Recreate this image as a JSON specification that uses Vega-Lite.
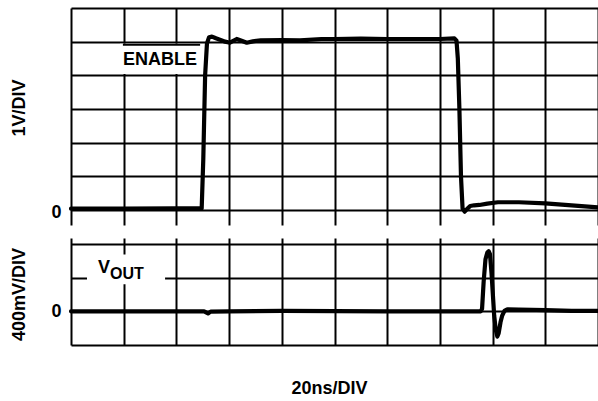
{
  "$schema": "https://vega.github.io/schema/vega-lite/v6.json",
  "padding": {"left": 10, "top": 8, "right": 0, "bottom": 0},
  "background": "white",
  "bounds": "flush",
  "spacing": 13,
  "config": {
    "view": {"stroke": null},
    "font": "Liberation Sans",
    "axis": {
      "gridColor": "black", "gridOpacity": 1, "gridWidth": 2,
      "ticks": false, "domain": false,
      "labelFont": "Liberation Sans", "labelFontSize": 18, "labelFontWeight": "bold", "labelColor": "black",
      "titleFont": "Liberation Sans", "titleFontSize": 18, "titleFontWeight": "bold", "titleColor": "black"
    }
  },
  "datasets": {
    "enable": [
      {"t": 0, "v": 0.04}, {"t": 20, "v": 0.04}, {"t": 40, "v": 0.05}, {"t": 49.6, "v": 0.05},
      {"t": 50.2, "v": 1.5}, {"t": 50.9, "v": 4.0}, {"t": 51.6, "v": 4.95}, {"t": 52.4, "v": 5.13},
      {"t": 53.5, "v": 5.15}, {"t": 55, "v": 5.1}, {"t": 56.5, "v": 5.06}, {"t": 58.5, "v": 5.0},
      {"t": 60.3, "v": 4.97}, {"t": 62.9, "v": 5.08}, {"t": 65, "v": 5.02}, {"t": 66.7, "v": 4.97},
      {"t": 69, "v": 5.01}, {"t": 72, "v": 5.04}, {"t": 80, "v": 5.05}, {"t": 86.9, "v": 5.04},
      {"t": 95, "v": 5.08}, {"t": 100, "v": 5.08}, {"t": 110, "v": 5.09}, {"t": 120, "v": 5.08},
      {"t": 130, "v": 5.08}, {"t": 140, "v": 5.08}, {"t": 145.5, "v": 5.1}, {"t": 146.3, "v": 5.03},
      {"t": 146.8, "v": 4.5}, {"t": 147.4, "v": 3.0}, {"t": 148.0, "v": 1.0}, {"t": 148.6, "v": 0.05},
      {"t": 149.4, "v": -0.05}, {"t": 150.2, "v": 0.02}, {"t": 151.5, "v": 0.12}, {"t": 153, "v": 0.14},
      {"t": 155, "v": 0.15}, {"t": 158, "v": 0.19}, {"t": 162, "v": 0.23}, {"t": 170, "v": 0.23},
      {"t": 180, "v": 0.2}, {"t": 190, "v": 0.14}, {"t": 200, "v": 0.08}
    ],
    "vout": [
      {"t": 0, "mv": 0}, {"t": 20, "mv": 0}, {"t": 40, "mv": 0}, {"t": 50.5, "mv": 0},
      {"t": 52.0, "mv": -25}, {"t": 53, "mv": -3}, {"t": 60, "mv": 0}, {"t": 80, "mv": 5},
      {"t": 100, "mv": 3}, {"t": 120, "mv": 0}, {"t": 140, "mv": 0}, {"t": 155.5, "mv": 0},
      {"t": 156.0, "mv": 30}, {"t": 156.6, "mv": 350}, {"t": 157.3, "mv": 620}, {"t": 158.0, "mv": 700},
      {"t": 158.5, "mv": 715}, {"t": 159.0, "mv": 680}, {"t": 159.6, "mv": 450}, {"t": 160.2, "mv": 150},
      {"t": 160.6, "mv": -50}, {"t": 161.2, "mv": -220}, {"t": 161.8, "mv": -300}, {"t": 162.3, "mv": -260},
      {"t": 163.0, "mv": -130}, {"t": 163.6, "mv": -55}, {"t": 164.5, "mv": 5}, {"t": 165.6, "mv": 25},
      {"t": 170, "mv": 22}, {"t": 180, "mv": 15}, {"t": 190, "mv": 5}, {"t": 200, "mv": 5}
    ],
    "one": [{}]
  },
  "vconcat": [
    {
      "width": 527,
      "height": 217,
      "resolve": {"axis": {"x": "independent", "y": "independent"}},
      "layer": [
        {
          "data": {"name": "enable"},
          "mark": {"type": "line", "color": "black", "strokeWidth": 4.2, "strokeJoin": "round", "strokeCap": "round"},
          "encoding": {
            "x": {"field": "t", "type": "quantitative",
                  "scale": {"domain": [0, 200], "nice": false, "zero": false},
                  "axis": {"values": [0, 20, 40, 60, 80, 100, 120, 140, 160, 180, 200], "grid": true, "labels": false, "title": null}},
            "y": {"field": "v", "type": "quantitative",
                  "scale": {"domain": [-0.445, 6], "nice": false, "zero": false},
                  "axis": {"values": [0, 1, 2, 3, 4, 5, 6], "grid": true, "labelExpr": "datum.value === 0 ? '0' : ''",
                           "labelPadding": 10, "labelOffset": 2, "title": "1V/DIV", "titleAngle": 270, "titleBaseline": "alphabetic",
                           "titleX": -47, "titleY": 99.5}}
          }
        },
        {
          "data": {"name": "one"},
          "mark": {"type": "rect", "color": "white"},
          "encoding": {
            "x": {"datum": 18.6, "type": "quantitative", "axis": null},
            "x2": {"datum": 49},
            "y": {"datum": 4.04, "type": "quantitative", "axis": null},
            "y2": {"datum": 4.94}
          }
        },
        {
          "data": {"name": "one"},
          "mark": {"type": "rule", "color": "black", "strokeWidth": 2},
          "encoding": {
            "x": {"datum": 19.7, "type": "quantitative", "axis": null},
            "x2": {"datum": 49},
            "y": {"datum": 4.91, "type": "quantitative", "axis": null}
          }
        },
        {
          "data": {"name": "one"},
          "mark": {"type": "text", "text": "ENABLE", "align": "center", "baseline": "alphabetic", "fontSize": 18, "fontWeight": "bold", "font": "Liberation Sans", "color": "black"},
          "encoding": {
            "x": {"datum": 33.8, "type": "quantitative", "axis": null},
            "y": {"datum": 4.315, "type": "quantitative", "axis": null}
          }
        }
      ]
    },
    {
      "width": 527,
      "height": 107,
      "resolve": {"axis": {"x": "independent", "y": "independent"}},
      "layer": [
        {
          "data": {"name": "vout"},
          "mark": {"type": "line", "color": "black", "strokeWidth": 4.2, "strokeJoin": "round", "strokeCap": "round"},
          "encoding": {
            "x": {"field": "t", "type": "quantitative",
                  "scale": {"domain": [0, 200], "nice": false, "zero": false},
                  "axis": {"values": [0, 20, 40, 60, 80, 100, 120, 140, 160, 180, 200], "grid": true, "labels": false,
                           "title": "20ns/DIV", "titleBaseline": "alphabetic", "titleX": 258, "titleY": 48}},
            "y": {"field": "mv", "type": "quantitative",
                  "scale": {"domain": [-400, 872], "nice": false, "zero": false},
                  "axis": {"values": [-400, 0, 400, 800], "grid": true, "labelExpr": "datum.value === 0 ? '0' : ''",
                           "labelPadding": 10, "title": "400mV/DIV", "titleAngle": 270, "titleBaseline": "alphabetic",
                           "titleX": -47, "titleY": 56}}
          }
        },
        {
          "data": {"name": "one"},
          "mark": {"type": "rect", "color": "white"},
          "encoding": {
            "x": {"datum": 6.07, "type": "quantitative", "axis": null},
            "x2": {"datum": 35.7},
            "y": {"datum": 321, "type": "quantitative", "axis": null},
            "y2": {"datum": 677}
          }
        },
        {
          "data": {"name": "one"},
          "mark": {"type": "text", "text": "V", "align": "left", "baseline": "alphabetic", "fontSize": 18, "fontWeight": "bold", "font": "Liberation Sans", "color": "black"},
          "encoding": {
            "x": {"datum": 10.25, "type": "quantitative", "axis": null},
            "y": {"datum": 451, "type": "quantitative", "axis": null}
          }
        },
        {
          "data": {"name": "one"},
          "mark": {"type": "text", "text": "OUT", "align": "left", "baseline": "alphabetic", "fontSize": 16, "fontWeight": "bold", "font": "Liberation Sans", "color": "black"},
          "encoding": {
            "x": {"datum": 14.8, "type": "quantitative", "axis": null},
            "y": {"datum": 380, "type": "quantitative", "axis": null}
          }
        }
      ]
    }
  ]
}
